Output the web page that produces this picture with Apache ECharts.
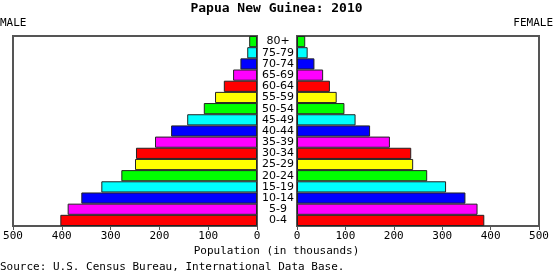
<!DOCTYPE html>
<html><head><meta charset="utf-8">
<script src="https://cdn.jsdelivr.net/npm/echarts@6/dist/echarts.min.js"></script>
<style>html,body{margin:0;padding:0;background:#fff}#c{width:553px;height:275px}</style>
</head><body><div id="c"></div>
<script>
const ageGroups = ['0-4','5-9','10-14','15-19','20-24','25-29','30-34','35-39','40-44','45-49','50-54','55-59','60-64','65-69','70-74','75-79','80+'];
const male =   [403, 388, 360, 319, 278, 250, 248, 209, 176, 143, 109, 86, 68, 49, 34, 20, 16];
const female = [387, 373, 348, 308, 269, 240, 236, 192, 151, 121, 98, 82, 68, 54, 36, 22, 17];
const barColors = ['#ff0000','#ff00ff','#0000ff','#00ffff','#00ff00','#ffff00'];
const xTicks = [0,100,200,300,400,500];

const mono = 'DejaVu Sans Mono';
function mk(vals){
  return vals.map((v,i)=>({value:v,itemStyle:{color:barColors[i%6]}}));
}
const chart = echarts.init(document.getElementById('c'), null, {renderer:'canvas'});
const xCommon = {
  type:'value', min:0, max:500, interval:100,
  axisLine:{show:false}, splitLine:{show:false},
  axisTick:{show:true, inside:false, length:4, lineStyle:{color:'#555'}},
  axisLabel:{fontFamily:mono, fontSize:11, color:'#000', margin:5}
};
chart.setOption({
  animation:false,
  title:[
    {text:'Papua New Guinea: 2010', left:'center', top:2, padding:0, textStyle:{fontFamily:mono, fontWeight:'bold', fontSize:13, color:'#000'}},
    {text:'MALE', left:0, top:18, padding:0, textStyle:{fontFamily:mono, fontWeight:'normal', fontSize:11, color:'#000'}},
    {text:'FEMALE', right:0, top:18, padding:0, textStyle:{fontFamily:mono, fontWeight:'normal', fontSize:11, color:'#000'}},
    {text:'Population (in thousands)', left:'center', top:246, padding:0, textStyle:{fontFamily:mono, fontWeight:'normal', fontSize:11, color:'#000'}},
    {text:'Source: U.S. Census Bureau, International Data Base.', left:0, top:262, padding:0, textStyle:{fontFamily:mono, fontWeight:'normal', fontSize:11, color:'#000'}}
  ],
  grid:[
    {left:13, top:36, width:244, height:190, show:true, borderColor:'#555', borderWidth:2, backgroundColor:'#fff'},
    {left:297, top:36, width:242, height:190, show:true, borderColor:'#555', borderWidth:2, backgroundColor:'#fff'}
  ],
  xAxis:[
    Object.assign({gridIndex:0, inverse:true}, xCommon),
    Object.assign({gridIndex:1}, xCommon)
  ],
  yAxis:[
    {type:'category', gridIndex:0, data:ageGroups, position:'right',
     axisLine:{show:false}, axisTick:{show:false}, splitLine:{show:false},
     axisLabel:{show:true, align:'center', margin:21, fontFamily:'DejaVu Sans', fontSize:11, color:'#000', interval:0}},
    {type:'category', gridIndex:1, data:ageGroups,
     axisLine:{show:false}, axisTick:{show:false}, axisLabel:{show:false}, splitLine:{show:false}}
  ],
  series:[
    {type:'bar', xAxisIndex:0, yAxisIndex:0, data:mk(male), barCategoryGap:0,
     itemStyle:{borderColor:'#222', borderWidth:1}},
    {type:'bar', xAxisIndex:1, yAxisIndex:1, data:mk(female), barCategoryGap:0,
     itemStyle:{borderColor:'#222', borderWidth:1}}
  ]
});
</script></body></html>
